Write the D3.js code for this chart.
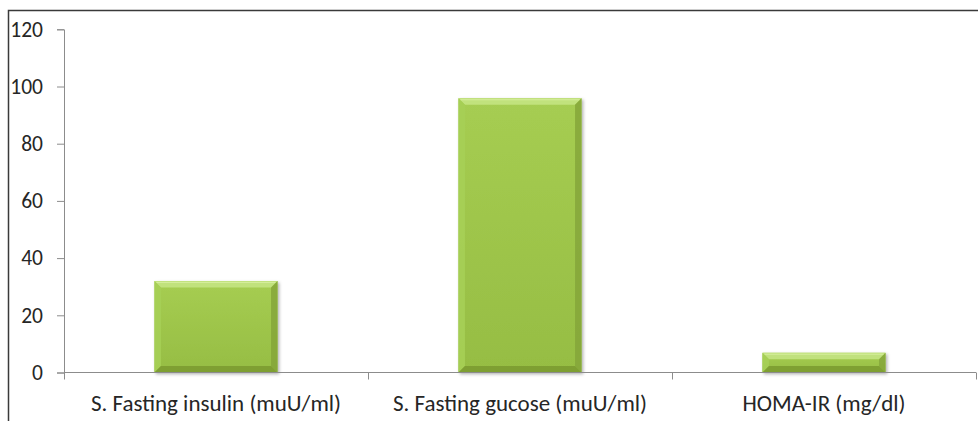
<!DOCTYPE html>
<html>
<head>
<meta charset="utf-8">
<script src="https://cdn.jsdelivr.net/npm/d3@7"></script>
<style>
  html, body { margin: 0; padding: 0; background: #fff; }
  svg { display: block; }
  text { font-family: Carlito, Calibri, Lato, "Open Sans", sans-serif; fill: #262626; }
</style>
</head>
<body>
<svg id="chart" width="978" height="421"></svg>
<script>
// Fasting metabolic markers
const categories = ["S. Fasting insulin (muU/ml)", "S. Fasting gucose (muU/ml)", "HOMA-IR (mg/dl)"];
const values = [32.0, 95.9, 6.9];
const yTicks = [0, 20, 40, 60, 80, 100, 120];

const svg = d3.select("#chart");
const W = 978, H = 421;
const plot = { left: 64, right: 976, top: 29.3, bottom: 372.5 };
const FONT = "Carlito, Calibri, Lato, 'Open Sans', sans-serif";

// Outer frame: only the top and left edges fall inside the view
svg.append("path")
  .attr("d", `M8.5,${H} L8.5,10.5 L${W},10.5`)
  .attr("fill", "none")
  .attr("stroke", "#3a3a3a")
  .attr("stroke-width", 1.5);

const y = d3.scaleLinear().domain([0, 120]).range([plot.bottom, plot.top]);
const x = d3.scaleBand().domain(categories)
  .range([plot.left, plot.right])
  .paddingInner(0.595).paddingOuter(0.2975);

const defs = svg.append("defs");
const face = defs.append("linearGradient").attr("id", "face")
  .attr("x1", 0).attr("y1", 0).attr("x2", 0).attr("y2", 1);
face.append("stop").attr("offset", "0%").attr("stop-color", "#a6cd52");
face.append("stop").attr("offset", "100%").attr("stop-color", "#96bd43");

const shadow = defs.append("filter").attr("id", "shadow")
  .attr("x", "-10%").attr("y", "-10%").attr("width", "130%").attr("height", "140%");
shadow.append("feDropShadow").attr("dx", 1.5).attr("dy", 1.5)
  .attr("stdDeviation", 1.5).attr("flood-color", "#000").attr("flood-opacity", 0.3);

// Y axis
const yAxis = d3.axisLeft(y).tickValues(yTicks).tickSizeOuter(0).tickSize(7).tickPadding(14);
const gy = svg.append("g").attr("transform", `translate(${plot.left},0)`).call(yAxis);
gy.select(".domain").attr("stroke", "#8c8c8c");
gy.selectAll(".tick line").attr("stroke", "#8c8c8c");
gy.selectAll(".tick text").attr("font-size", 21.5).attr("fill", "#262626")
  .style("font-family", FONT);

// Bars with bevelled edges
const bars = svg.append("g");
categories.forEach((c, i) => {
  const bx = x(c), bw = x.bandwidth();
  const top = y(values[i]), bot = y(0);
  const bh = bot - top;
  const b = Math.min(6.5, bh / 2);
  const g = bars.append("g").attr("filter", "url(#shadow)");
  g.append("rect").attr("x", bx).attr("y", top).attr("width", bw).attr("height", bh)
    .attr("fill", "url(#face)");
  const L = bx, R = bx + bw, T = top, B = bot;
  const poly = (pts, fill, op) => g.append("polygon")
    .attr("points", pts.map(p => p.join(",")).join(" "))
    .attr("fill", fill).attr("opacity", op);
  // top highlight
  poly([[L, T], [R, T], [R - b, T + b], [L + b, T + b]], "#c6e585", 0.85);
  // left edge
  poly([[L, T], [L + b, T + b], [L + b, B - b], [L, B]], "#a6cf55", 0.9);
  // right edge
  poly([[R, T], [R, B], [R - b, B - b], [R - b, T + b]], "#83a438", 0.8);
  // bottom edge
  poly([[L, B], [L + b, B - b], [R - b, B - b], [R, B]], "#7a9a30", 0.85);
  // thin bright line along the very top
  g.append("line").attr("x1", L + 2).attr("x2", R - 2).attr("y1", T + 1.5).attr("y2", T + 1.5)
    .attr("stroke", "#e2f5b0").attr("stroke-width", 1).attr("opacity", 0.6);
});

// X axis with ticks at category boundaries
const gx = svg.append("g");
gx.append("line")
  .attr("x1", plot.left).attr("x2", plot.right)
  .attr("y1", plot.bottom).attr("y2", plot.bottom)
  .attr("stroke", "#8c8c8c");
const edges = d3.range(categories.length + 1).map(i => plot.left + i * x.step());
gx.selectAll("line.tk").data(edges).join("line").attr("class", "tk")
  .attr("x1", d => d + 0.5).attr("x2", d => d + 0.5)
  .attr("y1", plot.bottom).attr("y2", plot.bottom + 7)
  .attr("stroke", "#8c8c8c");
gx.selectAll("text").data(categories).join("text")
  .attr("x", d => x(d) + x.bandwidth() / 2)
  .attr("y", 411)
  .attr("text-anchor", "middle")
  .attr("font-size", 23)
  .text(d => d);
</script>
</body>
</html>
